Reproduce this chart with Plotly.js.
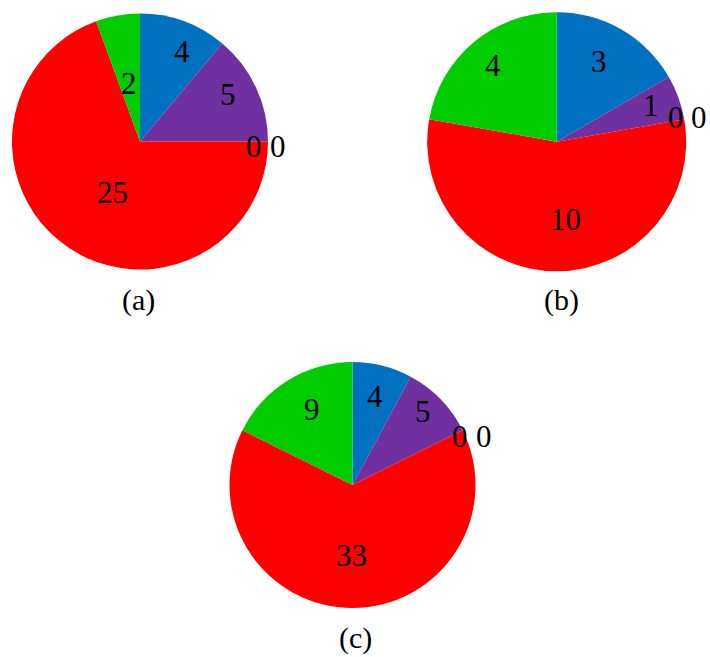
<!DOCTYPE html>
<html><head><meta charset="utf-8">
<script src="https://cdn.plot.ly/plotly-3.0.1.min.js"></script>
<style>html,body{margin:0;padding:0;background:#fff;} #chart{width:710px;height:657px;}</style>
</head><body><div id="chart"></div>
<script>
// ---- data ----
const categories = ['Blue', 'Purple', 'Zero 1', 'Zero 2', 'Red', 'Green'];
const valuesA = [4, 5, 0, 0, 25, 2];
const valuesB = [3, 1, 0, 0, 10, 4];
const valuesC = [4, 5, 0, 0, 33, 9];
const panelLabels = ['(a)', '(b)', '(c)'];

// ---- style ----
const sliceColors = ['#0070C0', '#7030A0', '#FFC000', '#A5A5A5', '#FF0000', '#00CC00'];
const W = 710, H = 657;
const FONT = 'Liberation Serif, Times New Roman, serif';
const panels = [
  {values: valuesA, cx: 140,   cy: 141.5, r: 128,   lx: 138,   ly: 300,
   rf: [0.773, 0.776, 0, 0, 0.453, 0.461], da: [4.9, -3, 0, 0, -7, -0.4], zdx: -2,  zdy: 4.5},
  {values: valuesB, cx: 556.7, cy: 141.7, r: 129.5, lx: 561.7, ly: 300,
   rf: [0.70, 0.776, 0, 0, 0.608, 0.768],  da: [-2, -1, 0, 0, -6.6, 0.4], zdx: 3.3, zdy: -1.4},
  {values: valuesC, cx: 352.5, cy: 485,   r: 123,   lx: 355.7, ly: 638,
   rf: [0.74, 0.83, 0, 0, 0.57, 0.694],    da: [0, -2, 0, 0, 0.6, 3.3],   zdx: 9.6, zdy: 6.3}
];

const traces = [];
const annotations = [];
const px = x => x / W;
const py = y => 1 - y / H;

panels.forEach((p, i) => {
  traces.push({
    type: 'pie',
    values: p.values,
    labels: categories,
    sort: false,
    direction: 'clockwise',
    rotation: 0,
    textinfo: 'none',
    hoverinfo: 'label+value',
    marker: {colors: sliceColors, line: {width: 0}},
    domain: {x: [px(p.cx - p.r), px(p.cx + p.r)], y: [py(p.cy + p.r), py(p.cy - p.r)]},
    showlegend: false
  });
  const total = p.values.reduce((a, b) => a + b, 0);
  let cum = 0;
  const zeros = [];
  p.values.forEach((v, k) => {
    const a0 = cum / total * 360;
    cum += v;
    const a1 = cum / total * 360;
    if (v === 0) { zeros.push({k: k, ang: a0}); return; }
    const ang = ((a0 + a1) / 2 + p.da[k]) * Math.PI / 180;
    const rr = p.rf[k] * p.r;
    annotations.push({
      xref: 'paper', yref: 'paper',
      x: px(p.cx + rr * Math.sin(ang)), y: py(p.cy - rr * Math.cos(ang)),
      xanchor: 'center', yanchor: 'middle', showarrow: false,
      text: String(v), font: {family: FONT, size: 31, color: '#000'}
    });
  });
  zeros.forEach((z, j) => {
    const ang = z.ang * Math.PI / 180;
    const ex = p.cx + p.r * Math.sin(ang) + p.zdx + (j - (zeros.length - 1) / 2) * 23.5;
    const ey = p.cy - p.r * Math.cos(ang) + p.zdy;
    annotations.push({
      xref: 'paper', yref: 'paper', x: px(ex), y: py(ey),
      xanchor: 'center', yanchor: 'middle', showarrow: false,
      text: String(p.values[z.k]), font: {family: FONT, size: 31, color: '#000'}
    });
  });
  annotations.push({
    xref: 'paper', yref: 'paper', x: px(p.lx), y: py(p.ly),
    xanchor: 'center', yanchor: 'middle', showarrow: false,
    text: panelLabels[i], font: {family: FONT, size: 30, color: '#000'}
  });
});

Plotly.newPlot('chart', traces, {
  width: W, height: H,
  margin: {l: 0, r: 0, t: 0, b: 0},
  paper_bgcolor: '#fff', plot_bgcolor: '#fff',
  showlegend: false,
  annotations: annotations
}, {displayModeBar: false, staticPlot: true});
</script>
</body></html>
